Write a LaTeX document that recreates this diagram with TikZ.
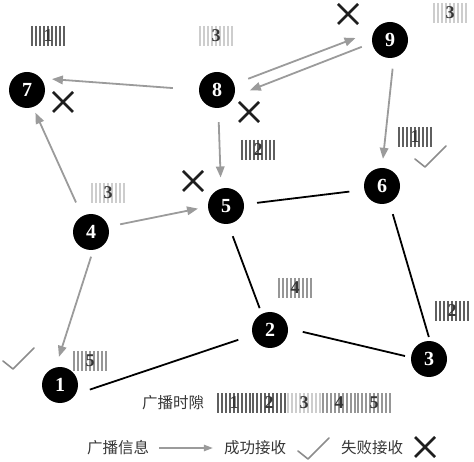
\documentclass[tikz,border=0pt]{standalone}
\usepackage{fontspec}
\setmainfont{Liberation Serif}
\newfontfamily\cjk{Noto Sans CJK SC}
\usetikzlibrary{arrows.meta,calc}
\definecolor{arrowgray}{RGB}{155,155,155}
\definecolor{crossdark}{RGB}{30,30,30}
\definecolor{checkgray}{RGB}{140,140,140}
\definecolor{textgray}{RGB}{55,55,55}
\definecolor{slotdark}{RGB}{95,95,95}
\definecolor{slotmid}{RGB}{150,150,150}
\definecolor{slotlight}{RGB}{205,205,205}
\tikzset{
  station-node/.style={circle, fill=black, text=white, minimum size=36pt,
    inner sep=0pt, font=\fontsize{20}{21}\selectfont\bfseries},
  link-line/.style={line width=1.8pt, draw=black},
  bcast-arrow/.style={-{Triangle[length=11pt,width=8.5pt]}, line width=1.8pt,
    draw=arrowgray, fill=arrowgray},
  slot-num/.style={font=\fontsize{18}{18}\selectfont\bfseries, text=textgray,
    inner sep=0pt},
  legend-text/.style={font=\cjk\fontsize{15.5}{16}\selectfont, text=textgray,
    inner sep=0pt},
  cross-mark/.pic={\draw[line width=2.8pt, draw=crossdark]
    (-10,-10) -- (10,10) (-10,10) -- (10,-10);},
  check-mark/.pic={\draw[line width=1.6pt, draw=checkgray, line cap=round,
    line join=round] (-10,-8) -- (0,0) -- (21,-21);}
}
% slot label: name, centre, number, stripe colour
\newcommand{\slotbox}[4]{%
  \foreach \dx in {-16,-12,...,16}
    \draw[#4, line width=1.1pt] ($(#2)+(\dx,-10)$) -- ($(#2)+(\dx,10)$);
  \node[slot-num] (#1) at (#2) {#3};}

\begin{document}
\begin{tikzpicture}[x=1pt, y=-1pt]
\useasboundingbox (0,0) rectangle (474,462);

% stations
\node[station-node] (n1) at (60,385) {1};
\node[station-node] (n2) at (270,330) {2};
\node[station-node] (n3) at (429,359) {3};
\node[station-node] (n4) at (91,232) {4};
\node[station-node] (n5) at (226,206) {5};
\node[station-node] (n6) at (382,186) {6};
\node[station-node] (n7) at (27,90) {7};
\node[station-node] (n8) at (217,90) {8};
\node[station-node] (n9) at (390,40) {9};

% links
\draw[link-line, shorten <=15pt, shorten >=15pt] (n1.-31) -- (n2.196);
\draw[link-line, shorten <=15pt, shorten >=6pt] (n2.5) -- (n3.175);
\draw[link-line, shorten <=13pt, shorten >=6pt] (n5.-83) -- (n2.117);
\draw[link-line, shorten <=13pt, shorten >=15pt] (n5.5) -- (n6.192);
\draw[link-line, shorten <=12pt, shorten >=4pt] (n6.-66) -- (n3.87);

% broadcasts
\draw[bcast-arrow, shorten <=26pt, shorten >=11pt] (n8.west) -- (n7.40);
\draw[bcast-arrow, shorten <=15pt, shorten >=20pt] (n8.19) -- (n9.150);
\draw[bcast-arrow, shorten <=11pt, shorten >=17pt] (n9.189) -- (n8.-21);
\draw[bcast-arrow, shorten <=14pt, shorten >=11pt] (n8.-86) -- (n5.106);
\draw[bcast-arrow, shorten <=11pt, shorten >=9pt] (n9.-78) -- (n6.90);
\draw[bcast-arrow, shorten <=15pt, shorten >=6pt] (n4.119) -- (n7.-71);
\draw[bcast-arrow, shorten <=12pt, shorten >=10pt] (n4.17) -- (n5.182);
\draw[bcast-arrow, shorten <=7pt, shorten >=11pt] (n4.-83) -- (n1.104);

% slots of the stations
\slotbox{s7}{48,36}{1}{slotdark}
\slotbox{s8}{216,36}{3}{slotlight}
\slotbox{s9}{450,13}{3}{slotlight}
\slotbox{s6}{415,137}{1}{slotdark}
\slotbox{s5}{258,150}{2}{slotdark}
\slotbox{s4}{108,193}{3}{slotlight}
\slotbox{s2}{295,288}{4}{slotmid}
\slotbox{s3}{452,311}{2}{slotdark}
\slotbox{s1}{90,361}{5}{slotmid}

% receptions
\pic at (63,102) {cross-mark};
\pic at (348,14) {cross-mark};
\pic at (249,112) {cross-mark};
\pic at (193,181) {cross-mark};
\pic at (425,167) {check-mark};
\pic at (13,369) {check-mark};

% slot row
\node[legend-text] (slotrow) at (173,403) {广播时隙};
\slotbox{r1}{234,403}{1}{slotdark}
\slotbox{r2}{269,403}{2}{slotdark}
\slotbox{r3}{304,403}{3}{slotlight}
\slotbox{r4}{339,403}{4}{slotmid}
\slotbox{r5}{374,403}{5}{slotmid}

% legend
\node[legend-text] (lg-info) at (118,448) {广播信息};
\node[legend-text] (lg-ok) at (255,448) {成功接收};
\node[legend-text] (lg-fail) at (372,448) {失败接收};
\draw[bcast-arrow, line width=1.3pt, -{Triangle[length=9pt,width=6.5pt]},
  shorten <=10pt, shorten >=11pt] (lg-info.east) -- (lg-ok.west);
\pic at (308,459) {check-mark};
\pic at (425,447) {cross-mark};
\end{tikzpicture}
\end{document}
